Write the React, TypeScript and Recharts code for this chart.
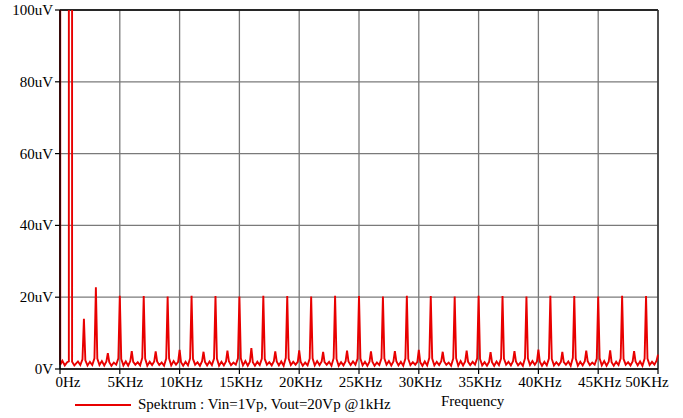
import React from 'react';
import { LineChart, Line, XAxis, YAxis, CartesianGrid, ReferenceLine, Legend } from 'recharts';

// Frequencies in kHz, amplitudes in uV
// DC and the 1 kHz fundamental (far above the 100uV range)
const lowBandKHz: number[] = [0, 0.02, 0.2, 0.4, 0.6, 0.74, 0.76, 0.99, 1.01, 1.2, 1.5, 1.7, 1.88];
const lowBandUV: number[] = [5000, 1.2, 2.3, 1.0, 1.9, 2.1, 5000, 5000, 2.0, 1.0, 2.1, 1.1, 2.7];

// Harmonics 2..49 kHz: each row holds the values at k + binOffsetsKHz
const binOffsetsKHz: number[] = [0, 0.12, 0.3, 0.5, 0.7, 0.88];
const firstHarmonicKHz = 2;
const harmonicRowsUV: number[][] = [
  [14.0, 2.4, 1.0, 2.0, 1.1, 3.0],
  [22.8, 2.9, 1.1, 2.2, 1.0, 2.1],
  [4.4, 1.9, 0.9, 1.8, 1.2, 3.0],
  [20.4, 2.8, 1.0, 2.1, 0.9, 2.2],
  [5.0, 2.0, 1.2, 1.9, 1.0, 3.1],
  [20.3, 2.9, 0.9, 2.0, 1.1, 2.1],
  [4.9, 2.1, 1.1, 1.8, 0.9, 2.9],
  [20.2, 3.0, 1.0, 2.2, 1.2, 2.0],
  [5.3, 1.9, 0.9, 2.0, 1.0, 3.0],
  [20.4, 2.8, 1.2, 1.9, 0.9, 2.2],
  [4.8, 2.0, 1.0, 2.1, 1.1, 2.9],
  [20.3, 2.9, 0.9, 2.0, 1.0, 2.1],
  [5.1, 2.2, 1.1, 1.8, 1.2, 3.0],
  [20.2, 3.0, 1.0, 2.2, 0.9, 2.0],
  [5.8, 1.9, 0.9, 2.0, 1.1, 2.9],
  [20.4, 2.8, 1.2, 1.9, 1.0, 2.2],
  [4.9, 2.1, 1.0, 2.1, 0.9, 3.1],
  [20.3, 2.9, 1.1, 2.0, 1.2, 2.0],
  [5.2, 2.0, 0.9, 1.8, 1.0, 2.9],
  [20.2, 3.0, 1.0, 2.2, 1.1, 2.1],
  [4.8, 1.9, 1.2, 2.0, 0.9, 3.0],
  [20.4, 2.8, 0.9, 1.9, 1.0, 2.2],
  [5.1, 2.1, 1.1, 2.1, 1.2, 2.9],
  [20.3, 2.9, 1.0, 2.0, 0.9, 2.0],
  [4.9, 2.0, 0.9, 1.8, 1.1, 3.0],
  [20.2, 3.0, 1.2, 2.2, 1.0, 2.1],
  [5.0, 2.2, 1.0, 2.0, 0.9, 2.9],
  [20.4, 2.8, 1.1, 1.9, 1.2, 2.0],
  [5.3, 1.9, 0.9, 2.1, 1.0, 3.1],
  [20.3, 2.9, 1.0, 2.0, 1.1, 2.2],
  [4.8, 2.1, 1.2, 1.8, 0.9, 2.9],
  [20.2, 3.0, 0.9, 2.2, 1.0, 2.1],
  [5.1, 2.0, 1.1, 2.0, 1.2, 3.0],
  [20.4, 2.8, 1.0, 1.9, 0.9, 2.0],
  [4.7, 1.9, 0.9, 2.1, 1.1, 2.9],
  [20.3, 2.9, 1.2, 2.0, 1.0, 2.2],
  [5.0, 2.1, 1.0, 1.8, 0.9, 3.0],
  [20.2, 3.0, 1.1, 2.2, 1.2, 2.1],
  [5.4, 2.0, 0.9, 2.0, 1.0, 2.9],
  [20.4, 2.8, 1.0, 1.9, 1.1, 2.0],
  [4.8, 1.9, 1.2, 2.1, 0.9, 3.1],
  [20.3, 2.9, 0.9, 2.0, 1.0, 2.2],
  [5.1, 2.2, 1.1, 1.8, 1.2, 2.9],
  [20.2, 3.0, 1.0, 2.2, 0.9, 2.0],
  [5.2, 1.9, 0.9, 2.0, 1.1, 3.0],
  [20.4, 2.8, 1.2, 1.9, 1.0, 2.1],
  [5.0, 2.1, 1.0, 2.1, 0.9, 2.9],
  [20.3, 2.9, 1.1, 2.0, 1.2, 2.3],
];
const endKHz: number[] = [50];
const endUV: number[] = [4.0];

const xTicks: number[] = [0, 5, 10, 15, 20, 25, 30, 35, 40, 45, 50];
const yTicks: number[] = [0, 20, 40, 60, 80, 100];
const seriesName = 'Spektrum : Vin=1Vp, Vout=20Vp @1kHz';
const xAxisTitle = 'Frequency';

const data = [
  ...lowBandKHz.map((f, i) => ({ f, v: lowBandUV[i] })),
  ...harmonicRowsUV.flatMap((row, r) =>
    row.map((v, j) => ({ f: firstHarmonicKHz + r + binOffsetsKHz[j], v }))
  ),
  ...endKHz.map((f, i) => ({ f, v: endUV[i] })),
];

const FONT = '"Liberation Serif", serif';
const RED = '#e80000';

const fmtX = (v: number) => (v === 0 ? '0Hz' : `${v}KHz`);
const fmtY = (v: number) => (v === 0 ? '0V' : `${v}uV`);
const labelShift = (v: number) => (v === 0 ? 8 : v === 5 ? 5.5 : v === 50 ? -11 : 1.5);

const XTick = (props: any) => {
  const { x, y, payload } = props;
  return (
    <text x={x + labelShift(payload.value)} y={y} dy="0.71em" textAnchor="middle" fill="#000" style={{ fontFamily: FONT, fontSize: 15 }}>
      {fmtX(payload.value)}
    </text>
  );
};

const YTick = (props: any) => {
  const { x, y, payload } = props;
  return (
    <text x={x} y={y} dy="0.33em" textAnchor="end" fill="#000" style={{ fontFamily: FONT, fontSize: 15 }}>
      {fmtY(payload.value)}
    </text>
  );
};

const renderLegend = () => (
  <div style={{ display: 'flex', alignItems: 'center', fontFamily: FONT, fontSize: 15, color: '#000' }}>
    <svg width={56} height={4} style={{ marginLeft: 75 }}>
      <line x1={0} y1={2} x2={56} y2={2} stroke={RED} strokeWidth={2} />
    </svg>
    <span style={{ marginLeft: 7 }}>{seriesName}</span>
  </div>
);

export default function App() {
  return (
    <div style={{ position: 'absolute', left: 0, top: 0, width: 683, height: 418, background: '#fff', fontFamily: FONT }}>
      <LineChart width={683} height={418} data={data} margin={{ top: 10, right: 25, left: 0, bottom: 4 }}>
        <CartesianGrid stroke="#7a7a7a" strokeWidth={1.3} />
        <XAxis
          type="number"
          dataKey="f"
          domain={[0, 50]}
          ticks={xTicks}
          tick={<XTick />}
          height={25}
          tickSize={5}
          axisLine={{ stroke: '#000', strokeWidth: 1.5 }}
          tickLine={{ stroke: '#000', strokeWidth: 1.2 }}
          label={{
            content: () => (
              <text x={441} y={406} fill="#000" style={{ fontFamily: FONT, fontSize: 15 }}>
                {xAxisTitle}
              </text>
            ),
          }}
        />
        <YAxis
          type="number"
          domain={[0, 100]}
          allowDataOverflow
          ticks={yTicks}
          tick={<YTick />}
          width={60}
          tickSize={5}
          axisLine={{ stroke: '#000', strokeWidth: 1.5 }}
          tickLine={{ stroke: '#000', strokeWidth: 1.2 }}
        />
        <ReferenceLine y={100} stroke="#000" strokeWidth={1.5} />
        <ReferenceLine x={50} stroke="#333" strokeWidth={1.5} />
        <Legend
          content={renderLegend}
          height={20}
          wrapperStyle={{ position: 'absolute', left: 0, top: 396, bottom: 'auto', width: 683, height: 20 }}
        />
        <Line
          type="linear"
          dataKey="v"
          name={seriesName}
          stroke={RED}
          strokeWidth={1.9}
          dot={false}
          isAnimationActive={false}
        />
      </LineChart>
    </div>
  );
}
